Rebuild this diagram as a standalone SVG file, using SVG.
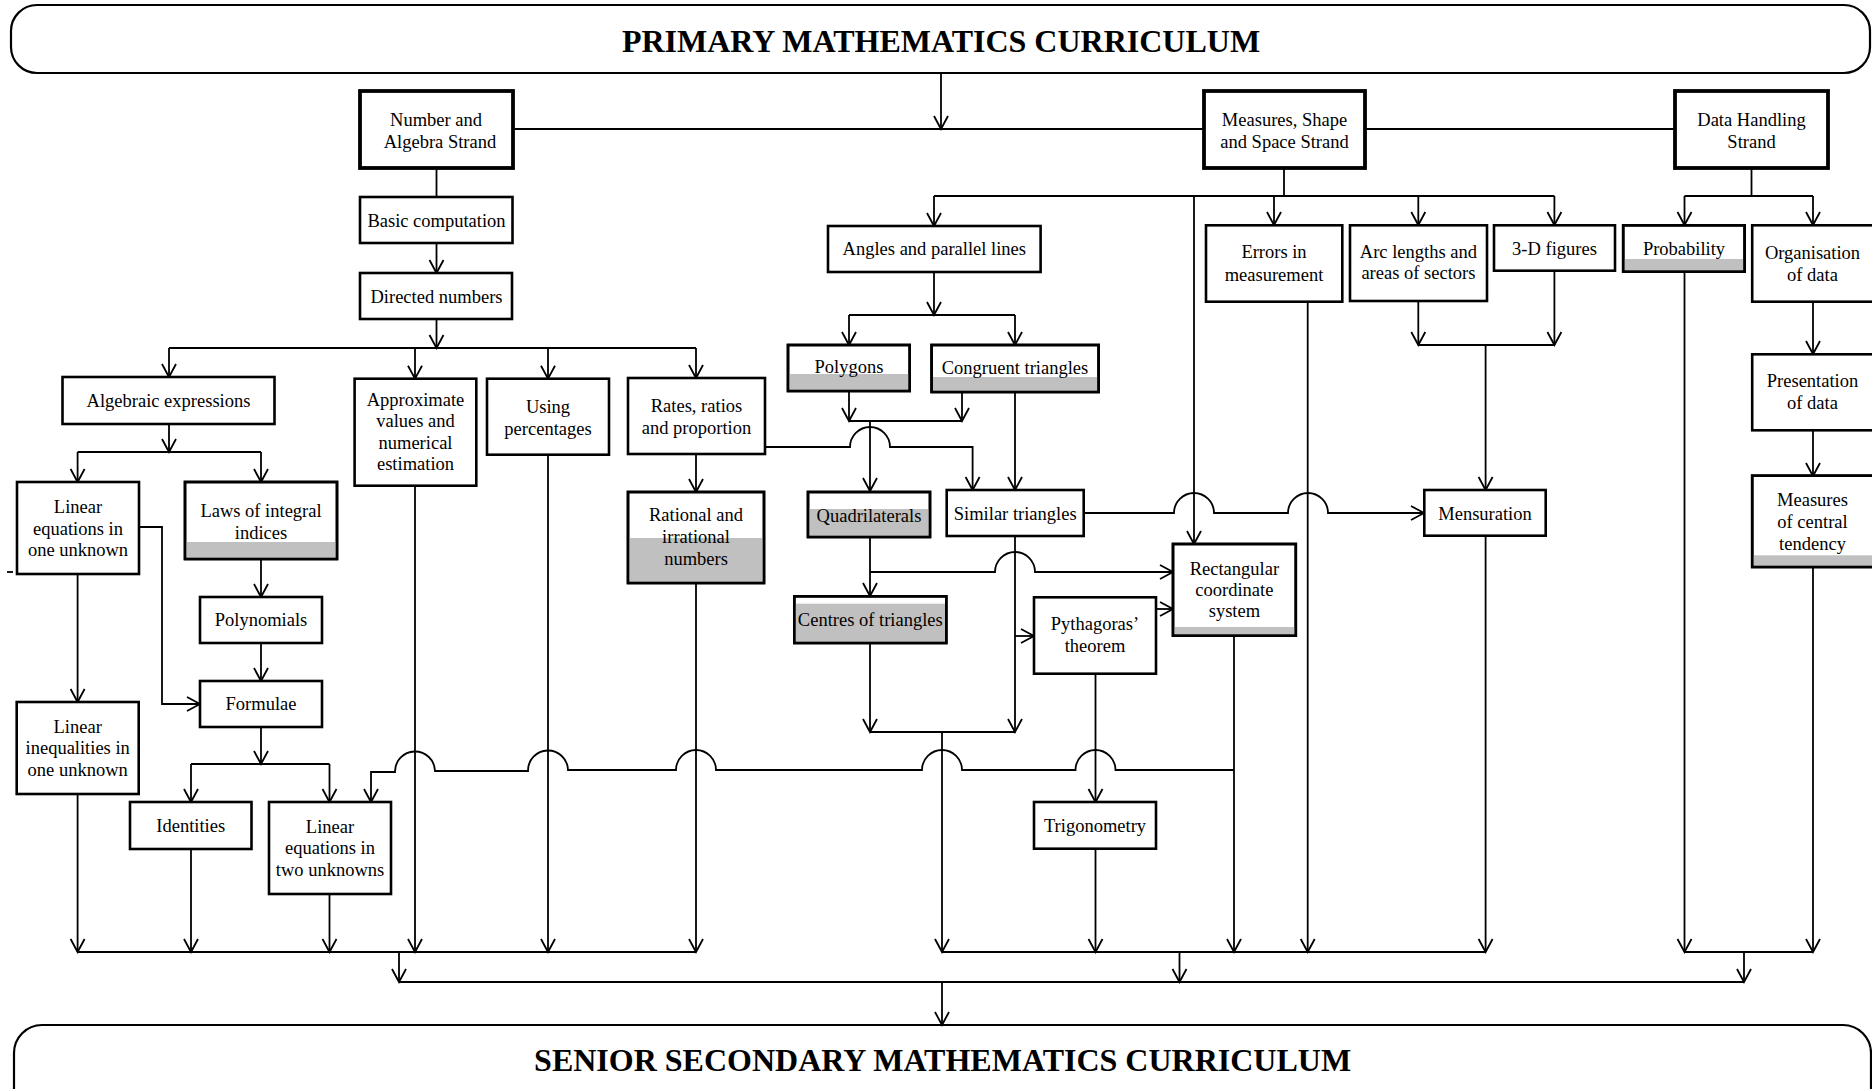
<svg xmlns="http://www.w3.org/2000/svg" width="1872" height="1089" viewBox="0 0 1872 1089">
<defs>
<style>
.bn{fill:#fff;stroke:#000;stroke-width:2.2}
.st{fill:#fff;stroke:#000;stroke-width:3.8}
.bx{fill:#fff;stroke:#000;stroke-width:2.6}
.fr{fill:none;stroke:#000;stroke-width:2.6}
.gr{fill:#c0c0c0;stroke:none}
.t{font-family:"Liberation Serif","Times New Roman",serif;font-size:18.5px;text-anchor:middle;fill:#000}
.tt{font-family:"Liberation Serif","Times New Roman",serif;font-size:32px;font-weight:bold;text-anchor:middle;fill:#000}
.c path{fill:none;stroke:#000;stroke-width:1.8}
.c .a{marker-end:url(#ah)}
</style>
<marker id="ah" markerUnits="userSpaceOnUse" markerWidth="30" markerHeight="30" viewBox="-15 -15 30 30" refX="0" refY="0" orient="auto" overflow="visible">
<path d="M-13,-7 L0,0 L-13,7" fill="none" stroke="#000" stroke-width="1.8"/>
</marker>
</defs>
<rect width="1872" height="1089" fill="#fff"/>

<g id="top-banner">
<rect class="bn" x="11" y="5" width="1859" height="68" rx="26"/>
<text class="tt" x="941" y="52">PRIMARY MATHEMATICS CURRICULUM</text>
</g>
<g id="bottom-banner">
<rect class="bn" x="14" y="1025" width="1857" height="100" rx="28"/>
<text class="tt" x="942.6" y="1071">SENIOR SECONDARY MATHEMATICS CURRICULUM</text>
</g>

<g class="c" id="connectors">
<path class="a" d="M941,73 V129"/>
<path d="M513,129 H1204 M1365,129 H1675"/>
<!-- Number and Algebra -->
<path d="M436.5,168 V197"/>
<path class="a" d="M436.5,243 V273"/>
<path class="a" d="M436.5,319 V348"/>
<path d="M169,348 H696"/>
<path class="a" d="M169,348 V377"/>
<path class="a" d="M415,348 V378.7"/>
<path class="a" d="M548,348 V378.7"/>
<path class="a" d="M696,348 V378"/>
<path class="a" d="M169,424 V452"/>
<path d="M77.6,452 H261"/>
<path class="a" d="M77.6,452 V482"/>
<path class="a" d="M261,452 V482"/>
<path class="a" d="M261,559 V597"/>
<path class="a" d="M261,643 V681"/>
<path class="a" d="M139,527 H162 V704 H200"/>
<path class="a" d="M77.6,574 V702"/>
<path class="a" d="M261,727 V764"/>
<path d="M191,764 H329.5"/>
<path class="a" d="M191,764 V802"/>
<path class="a" d="M329.5,764 V802"/>
<path class="a" d="M696,454 V492"/>
<path class="a" d="M77.6,794 V952"/>
<path class="a" d="M191,849 V952"/>
<path class="a" d="M329.5,894 V952"/>
<path class="a" d="M415,486 V952"/>
<path class="a" d="M548,455 V952"/>
<path class="a" d="M696,583 V952"/>
<path d="M77.6,952 H696"/>
<path class="a" d="M399,952 V982"/>
<!-- Measures, Shape and Space -->
<path d="M1284,168 V196 M934,196 H1554.4"/>
<path class="a" d="M934,196 V226"/>
<path class="a" d="M1194,196 V544"/>
<path class="a" d="M1274,196 V225"/>
<path class="a" d="M1418.3,196 V225"/>
<path class="a" d="M1554.4,196 V225"/>
<path class="a" d="M934,272 V315"/>
<path d="M849,315 H1015"/>
<path class="a" d="M849,315 V345"/>
<path class="a" d="M1015,315 V345"/>
<path class="a" d="M849,391 V421"/>
<path class="a" d="M962,392 V421"/>
<path d="M849,421 H962"/>
<path class="a" d="M870,421 V491"/>
<path class="a" d="M1015,392 V490"/>
<path class="a" d="M765,447 H850 A20,20 0 0 1 890,447 H972.6 V490"/>
<path class="a" d="M870,537 V596"/>
<path class="a" d="M870,572 H995 A20,20 0 0 1 1035,572 H1173"/>
<path class="a" d="M1015,536 V732"/>
<path class="a" d="M1015,636 H1034"/>
<path class="a" d="M1156,609 H1173"/>
<path class="a" d="M870,643 V732"/>
<path d="M870,732 H1015"/>
<path class="a" d="M942,732 V952"/>
<path class="a" d="M1095.5,674 V802"/>
<path class="a" d="M1095.5,849 V952"/>
<path class="a" d="M1234,636 V952"/>
<path class="a" d="M1234,770 H1115.5 A20,20 0 0 0 1075.5,770 H962 A20,20 0 0 0 922,770 H716 A20,20 0 0 0 676,770 H568 A20,20 0 0 0 528,771 H435 A20,20 0 0 0 395,772 H371 V802"/>
<path class="a" d="M1084,513 H1174 A20,20 0 0 1 1214,513 H1288 A20,20 0 0 1 1328,513 H1424"/>
<path class="a" d="M1307.7,302 V952"/>
<path class="a" d="M1418.3,301 V345"/>
<path class="a" d="M1554.4,271 V345"/>
<path d="M1418.3,345 H1554.4"/>
<path class="a" d="M1485.6,345 V490"/>
<path class="a" d="M1485.6,536 V952"/>
<path d="M942,952 H1485.6"/>
<path class="a" d="M1179.5,952 V982"/>
<!-- Data Handling -->
<path d="M1751.5,168 V196 M1684.5,196 H1813"/>
<path class="a" d="M1684.5,196 V225"/>
<path class="a" d="M1813,196 V225"/>
<path class="a" d="M1684.5,272 V952"/>
<path class="a" d="M1813,302 V354"/>
<path class="a" d="M1813,430 V476"/>
<path class="a" d="M1813,567 V952"/>
<path d="M1684.5,952 H1813"/>
<path class="a" d="M1744,952 V982"/>
<!-- final -->
<path d="M399,982 H1744"/>
<path class="a" d="M942,982 V1025"/>
<path d="M7,572 H13"/>
</g>

<g id="n-number-algebra"><rect class="st" x="360" y="91" width="153" height="77"/><text class="t" x="436" y="126">Number and</text><text class="t" x="440" y="148">Algebra Strand</text></g>
<g id="n-measures"><rect class="st" x="1204" y="91" width="161" height="77"/><text class="t" x="1284.5" y="126">Measures, Shape</text><text class="t" x="1284.5" y="148">and Space Strand</text></g>
<g id="n-data"><rect class="st" x="1675" y="91" width="153" height="77"/><text class="t" x="1751.5" y="126">Data Handling</text><text class="t" x="1751.5" y="148">Strand</text></g>

<g id="n-basic"><rect class="bx" x="360" y="197" width="152.5" height="46"/><text class="t" x="436.5" y="227">Basic computation</text></g>
<g id="n-directed"><rect class="bx" x="360" y="273" width="152" height="46"/><text class="t" x="436.5" y="303">Directed numbers</text></g>
<g id="n-algebraic"><rect class="bx" x="62.5" y="377" width="212" height="47"/><text class="t" x="168.5" y="407">Algebraic expressions</text></g>
<g id="n-approx"><rect class="bx" x="354.6" y="378.7" width="121.7" height="107"/><text class="t" x="415.5" y="405.7">Approximate</text><text class="t" x="415.5" y="427.2">values and</text><text class="t" x="415.5" y="448.7">numerical</text><text class="t" x="415.5" y="470.2">estimation</text></g>
<g id="n-percent"><rect class="bx" x="487" y="378.7" width="122" height="76"/><text class="t" x="548" y="413">Using</text><text class="t" x="548" y="434.5">percentages</text></g>
<g id="n-rates"><rect class="bx" x="628" y="378" width="137" height="76"/><text class="t" x="696.5" y="412">Rates, ratios</text><text class="t" x="696.5" y="434">and proportion</text></g>
<g id="n-lin1"><rect class="bx" x="17" y="482" width="122" height="92"/><text class="t" x="78" y="513">Linear</text><text class="t" x="78" y="534.5">equations in</text><text class="t" x="78" y="556">one unknown</text></g>
<g id="n-laws"><rect class="bx" x="185" y="482" width="152" height="77"/><rect class="gr" x="186.3" y="542" width="149.4" height="15.7"/><rect class="fr" x="185" y="482" width="152" height="77"/><text class="t" x="261" y="517">Laws of integral</text><text class="t" x="261" y="538.7">indices</text></g>
<g id="n-poly"><rect class="bx" x="200" y="597" width="122" height="46"/><text class="t" x="261" y="626.3">Polynomials</text></g>
<g id="n-formulae"><rect class="bx" x="200" y="681" width="122" height="46"/><text class="t" x="261" y="710">Formulae</text></g>
<g id="n-ineq"><rect class="bx" x="16.7" y="702" width="122" height="92"/><text class="t" x="77.7" y="732.5">Linear</text><text class="t" x="77.7" y="754">inequalities in</text><text class="t" x="77.7" y="775.5">one unknown</text></g>
<g id="n-ident"><rect class="bx" x="130" y="802" width="121.5" height="47"/><text class="t" x="190.7" y="832">Identities</text></g>
<g id="n-lin2"><rect class="bx" x="269" y="802" width="122" height="92"/><text class="t" x="330" y="832.7">Linear</text><text class="t" x="330" y="854.2">equations in</text><text class="t" x="330" y="875.7">two unknowns</text></g>
<g id="n-rational"><rect class="bx" x="628" y="492" width="136" height="91"/><rect class="gr" x="629.3" y="538" width="133.4" height="43.7"/><rect class="fr" x="628" y="492" width="136" height="91"/><text class="t" x="696" y="521">Rational and</text><text class="t" x="696" y="543">irrational</text><text class="t" x="696" y="564.7">numbers</text></g>

<g id="n-angles"><rect class="bx" x="828" y="226" width="212.6" height="46"/><text class="t" x="934.3" y="255">Angles and parallel lines</text></g>
<g id="n-polygons"><rect class="bx" x="788" y="345" width="121.7" height="46"/><rect class="gr" x="789.3" y="374" width="119.1" height="15.7"/><rect class="fr" x="788" y="345" width="121.7" height="46"/><text class="t" x="849" y="373">Polygons</text></g>
<g id="n-congruent"><rect class="bx" x="931.6" y="345" width="167" height="47"/><rect class="gr" x="932.9" y="377" width="164.4" height="13.7"/><rect class="fr" x="931.6" y="345" width="167" height="47"/><text class="t" x="1015" y="374">Congruent triangles</text></g>
<g id="n-quad"><rect class="bx" x="808" y="492" width="122" height="45"/><rect class="gr" x="809.3" y="509" width="119.4" height="26.7"/><rect class="fr" x="808" y="492" width="122" height="45"/><text class="t" x="869" y="522">Quadrilaterals</text></g>
<g id="n-similar"><rect class="bx" x="946.7" y="490" width="137" height="46"/><text class="t" x="1015.2" y="519.7">Similar triangles</text></g>
<g id="n-centres"><rect class="bx" x="794.3" y="596.3" width="152" height="46.7"/><rect class="gr" x="795.6" y="603.7" width="149.4" height="38"/><rect class="fr" x="794.3" y="596.3" width="152" height="46.7"/><text class="t" x="870.3" y="626.3">Centres of triangles</text></g>
<g id="n-pyth"><rect class="bx" x="1034" y="597.3" width="122" height="76.4"/><text class="t" x="1095" y="629.7">Pythagoras’</text><text class="t" x="1095" y="652.3">theorem</text></g>
<g id="n-rect"><rect class="bx" x="1173" y="544" width="122.8" height="91.7"/><rect class="gr" x="1174.3" y="627" width="120.2" height="7.4"/><rect class="fr" x="1173" y="544" width="122.8" height="91.7"/><text class="t" x="1234.4" y="574.7">Rectangular</text><text class="t" x="1234.4" y="595.9">coordinate</text><text class="t" x="1234.4" y="617">system</text></g>
<g id="n-trig"><rect class="bx" x="1034" y="802" width="122" height="46.7"/><text class="t" x="1095" y="832">Trigonometry</text></g>
<g id="n-errors"><rect class="bx" x="1206" y="225.3" width="136.3" height="76.4"/><text class="t" x="1274" y="258">Errors in</text><text class="t" x="1274" y="280.7">measurement</text></g>
<g id="n-arc"><rect class="bx" x="1350" y="225.3" width="137" height="75.7"/><text class="t" x="1418.4" y="257.7">Arc lengths and</text><text class="t" x="1418.4" y="279.3">areas of sectors</text></g>
<g id="n-3d"><rect class="bx" x="1494" y="225.3" width="121" height="45.4"/><text class="t" x="1554.5" y="255">3-D figures</text></g>
<g id="n-mensuration"><rect class="bx" x="1424.3" y="490" width="121.4" height="45.7"/><text class="t" x="1485" y="519.7">Mensuration</text></g>

<g id="n-prob"><rect class="bx" x="1623.2" y="225.3" width="121.4" height="46.4"/><rect class="gr" x="1624.5" y="259" width="118.8" height="11.4"/><rect class="fr" x="1623.2" y="225.3" width="121.4" height="46.4"/><text class="t" x="1684" y="255">Probability</text></g>
<g id="n-org"><rect class="bx" x="1752.2" y="225.3" width="122" height="76.4"/><text class="t" x="1812.5" y="259.3">Organisation</text><text class="t" x="1812.5" y="281">of data</text></g>
<g id="n-pres"><rect class="bx" x="1752.2" y="354.3" width="122" height="76"/><text class="t" x="1812.5" y="387.3">Presentation</text><text class="t" x="1812.5" y="408.7">of data</text></g>
<g id="n-mct"><rect class="bx" x="1752.2" y="475.7" width="122" height="91.3"/><rect class="gr" x="1753.5" y="555.3" width="119.4" height="10.4"/><rect class="fr" x="1752.2" y="475.7" width="122" height="91.3"/><text class="t" x="1812.5" y="506.3">Measures</text><text class="t" x="1812.5" y="528">of central</text><text class="t" x="1812.5" y="549.7">tendency</text></g>
</svg>
